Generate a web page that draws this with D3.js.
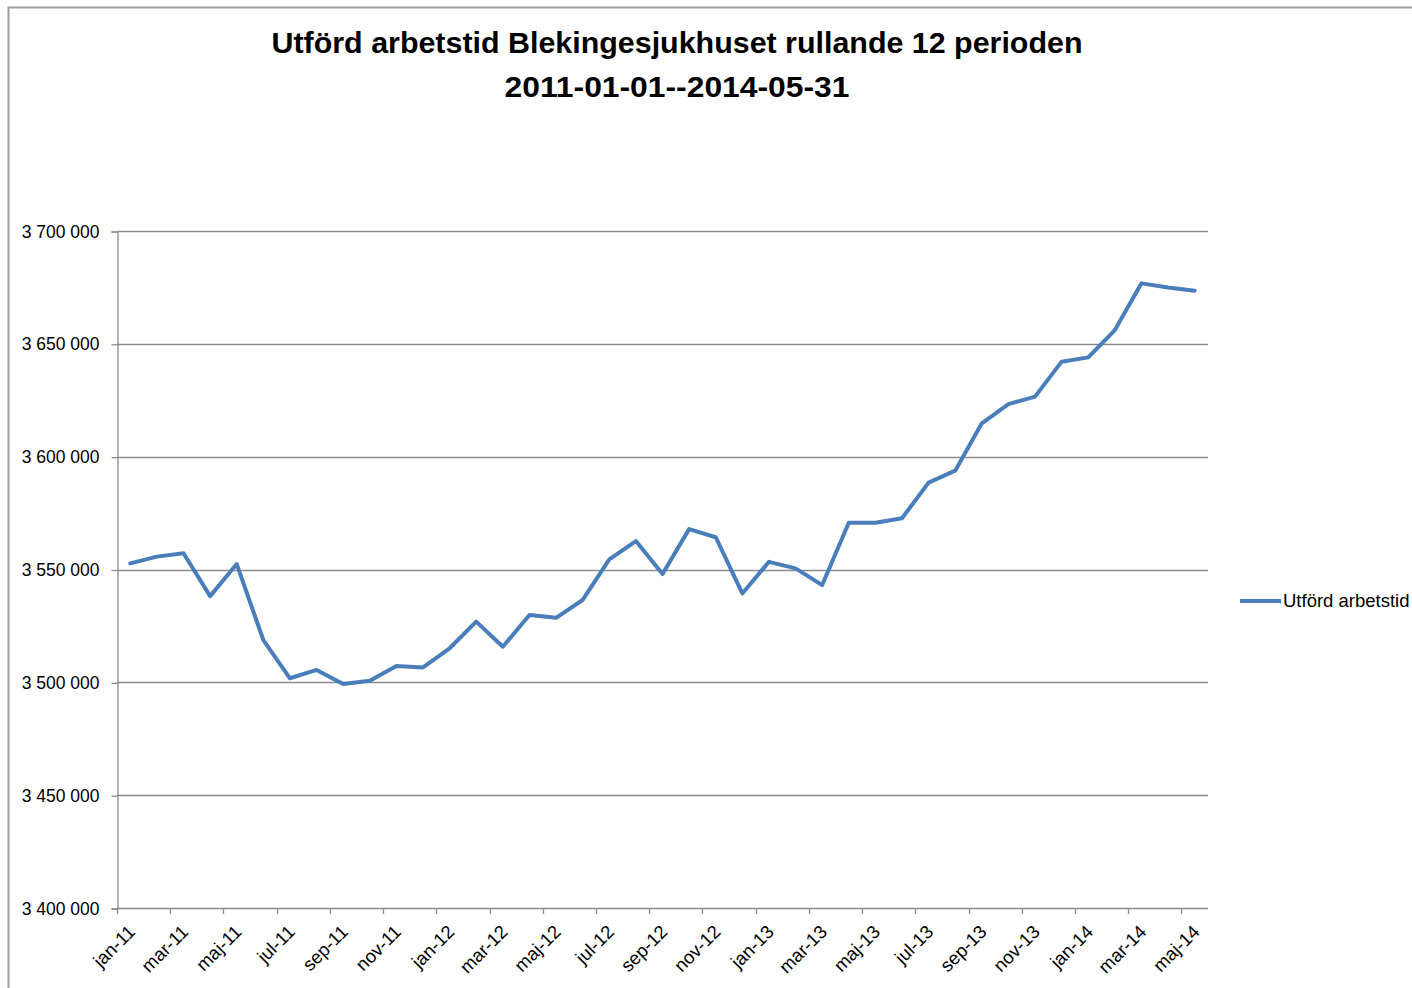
<!DOCTYPE html>
<html>
<head>
<meta charset="utf-8">
<script src="https://cdn.jsdelivr.net/npm/d3@7"></script>
<style>
    body { margin: 0; background: #fff; }
    svg { display: block; font-family: 'Liberation Sans', Arial, sans-serif; }
</style>
</head>
<body>
<div id="chart"></div>
<script>
// months jan-11 .. maj-14
const months = [
    'jan-11', 'feb-11', 'mar-11', 'apr-11', 'maj-11', 'jun-11', 'jul-11', 'aug-11', 'sep-11', 'okt-11', 'nov-11', 'dec-11',
    'jan-12', 'feb-12', 'mar-12', 'apr-12', 'maj-12', 'jun-12', 'jul-12', 'aug-12', 'sep-12', 'okt-12', 'nov-12', 'dec-12',
    'jan-13', 'feb-13', 'mar-13', 'apr-13', 'maj-13', 'jun-13', 'jul-13', 'aug-13', 'sep-13', 'okt-13', 'nov-13', 'dec-13',
    'jan-14', 'feb-14', 'mar-14', 'apr-14', 'maj-14'
];

const arbetstid = [
    3552700, 3555700, 3557200, 3538200, 3552400, 3518700, 3501800, 3505500, 3499300, 3500700, 3507200, 3506600,
    3515100, 3526900, 3515800, 3529800, 3528600, 3536500, 3554500, 3562600, 3548000, 3567900, 3564300, 3539400,
    3553400, 3550500, 3543100, 3570700, 3570700, 3572700, 3588500, 3593800, 3614800, 3623300, 3626600, 3642100,
    3644000, 3656100, 3676800, 3675000, 3673500
];

const yTicks = [3400000, 3450000, 3500000, 3550000, 3600000, 3650000, 3700000];
const seriesName = 'Utförd arbetstid';
const titleLines = ['Utförd arbetstid Blekingesjukhuset rullande 12 perioden', '2011-01-01--2014-05-31'];

const W = 1412, H = 988;
const plot = { left: 117, right: 1208, top: 231, bottom: 908 };
const gray = '#8c8c8c';
const blue = '#4a7ebb';

const svg = d3.select('#chart').append('svg')
    .attr('width', W)
    .attr('height', H);

// outer chart border
svg.append('path')
    .attr('d', `M8.5,${H} L8.5,7.5 L${W},7.5`)
    .attr('fill', 'none')
    .attr('stroke', '#a0a0a0')
    .attr('stroke-width', 2);

// title
const titleWidths = [811, 345];
svg.append('g')
    .selectAll('text')
    .data(titleLines)
    .join('text')
    .attr('x', 677)
    .attr('y', (d, i) => 53 + i * 44)
    .attr('text-anchor', 'middle')
    .attr('font-size', 30)
    .attr('font-weight', 'bold')
    .attr('fill', '#000')
    .attr('textLength', (d, i) => titleWidths[i])
    .attr('lengthAdjust', 'spacingAndGlyphs')
    .text(d => d);

const xScale = d3.scaleBand()
    .domain(months)
    .range([plot.left, plot.right])
    .paddingInner(0)
    .paddingOuter(0);

const yScale = d3.scaleLinear()
    .domain([3400000, 3700000])
    .range([plot.bottom, plot.top]);

const fmt = v => d3.format(',')(v).replace(/,/g, ' ');

// gridlines
svg.append('g')
    .selectAll('line')
    .data(yTicks.slice(1))
    .join('line')
    .attr('x1', plot.left)
    .attr('x2', plot.right)
    .attr('y1', d => Math.round(yScale(d)) + 0.5)
    .attr('y2', d => Math.round(yScale(d)) + 0.5)
    .attr('stroke', gray)
    .attr('stroke-width', 1.3);

// y axis
const yAxis = d3.axisLeft(yScale)
    .tickValues(yTicks)
    .tickSize(6)
    .tickPadding(12)
    .tickFormat(fmt);

const yAxisGroup = svg.append('g')
    .attr('transform', `translate(${plot.left + 0.5},0.5)`)
    .call(yAxis);
yAxisGroup.select('.domain').attr('stroke', gray).attr('stroke-width', 1.3);
yAxisGroup.selectAll('.tick line').attr('stroke', gray).attr('stroke-width', 1.3);
yAxisGroup.selectAll('.tick text')
    .attr('font-size', 17.5)
    .attr('font-family', 'Liberation Sans, Arial, sans-serif')
    .attr('fill', '#000');

// x axis: line, ticks every 2nd category boundary, labels at category centers
const xAxisGroup = svg.append('g');
xAxisGroup.append('line')
    .attr('x1', plot.left)
    .attr('x2', plot.right)
    .attr('y1', plot.bottom + 0.5)
    .attr('y2', plot.bottom + 0.5)
    .attr('stroke', gray)
    .attr('stroke-width', 1.3);

const shown = months.filter((m, i) => i % 2 === 0);

xAxisGroup.selectAll('.xtick')
    .data(shown)
    .join('line')
    .attr('class', 'xtick')
    .attr('x1', d => Math.round(xScale(d)) + 0.5)
    .attr('x2', d => Math.round(xScale(d)) + 0.5)
    .attr('y1', plot.bottom)
    .attr('y2', plot.bottom + 6)
    .attr('stroke', gray)
    .attr('stroke-width', 1.3);

xAxisGroup.selectAll('.xlabel')
    .data(shown)
    .join('text')
    .attr('class', 'xlabel')
    .attr('text-anchor', 'end')
    .attr('font-size', 18.5)
    .attr('fill', '#000')
    .attr('transform', d => `translate(${xScale(d) + xScale.bandwidth() / 2 + 6},${plot.bottom + 25}) rotate(-45)`)
    .text(d => d);

// series line
const line = d3.line()
    .x((d, i) => xScale(months[i]) + xScale.bandwidth() / 2)
    .y(d => yScale(d));

svg.append('path')
    .datum(arbetstid)
    .attr('fill', 'none')
    .attr('stroke', blue)
    .attr('stroke-width', 4)
    .attr('stroke-linejoin', 'round')
    .attr('stroke-linecap', 'round')
    .attr('d', line);

// legend
const legend = svg.append('g')
    .attr('transform', 'translate(1240,601)');
legend.append('line')
    .attr('x1', 0)
    .attr('x2', 41)
    .attr('stroke', blue)
    .attr('stroke-width', 4);
legend.append('text')
    .attr('x', 43)
    .attr('y', 6)
    .attr('font-size', 18.5)
    .attr('fill', '#000')
    .text(seriesName);
</script>
</body>
</html>
